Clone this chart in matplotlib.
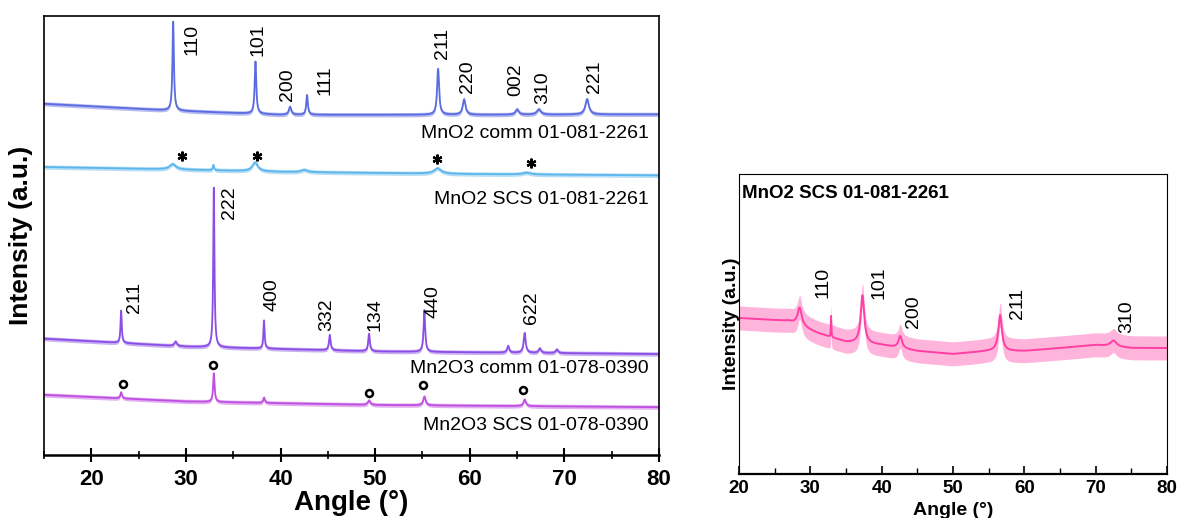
import numpy as np
import matplotlib.pyplot as plt
from matplotlib.ticker import MultipleLocator

plt.rcParams['font.family'] = ['Liberation Sans', 'DejaVu Sans']

# ---- peak tables (angle, height, width), y in axis fractions ----
# MnO2 commercial
mno2_comm_base_x = [15, 28, 40, 60, 80]
mno2_comm_base_y = [0.800, 0.785, 0.775, 0.775, 0.776]
mno2_comm_pos = [28.65, 37.35, 41.0, 42.8, 56.65, 59.4, 65.0, 67.3, 72.4]
mno2_comm_h = [0.205, 0.120, 0.018, 0.045, 0.105, 0.035, 0.012, 0.012, 0.035]
mno2_comm_w = [0.18, 0.20, 0.30, 0.20, 0.25, 0.35, 0.40, 0.50, 0.45]

# MnO2 SCS
mno2_scs_base_x = [15, 30, 40, 60, 80]
mno2_scs_base_y = [0.656, 0.650, 0.645, 0.640, 0.637]
mno2_scs_pos = [28.6, 32.9, 37.3, 42.5, 56.6, 66.0]
mno2_scs_h = [0.012, 0.012, 0.020, 0.005, 0.012, 0.004]
mno2_scs_w = [0.8, 0.15, 0.7, 0.8, 0.9, 1.0]

# Mn2O3 commercial
mn2o3_comm_base_x = [15, 30, 50, 80]
mn2o3_comm_base_y = [0.265, 0.247, 0.236, 0.230]
mn2o3_comm_pos = [23.15, 28.9, 32.95, 38.25, 45.2, 49.35, 55.2, 64.05, 65.8, 67.4, 69.2]
mn2o3_comm_h = [0.075, 0.010, 0.370, 0.065, 0.035, 0.040, 0.095, 0.015, 0.045, 0.010, 0.008]
mn2o3_comm_w = [0.15, 0.3, 0.15, 0.15, 0.20, 0.20, 0.20, 0.25, 0.25, 0.30, 0.30]

# Mn2O3 SCS
mn2o3_scs_base_x = [15, 30, 50, 80]
mn2o3_scs_base_y = [0.137, 0.122, 0.114, 0.109]
mn2o3_scs_pos = [23.15, 32.95, 38.25, 49.35, 55.2, 65.8]
mn2o3_scs_h = [0.014, 0.066, 0.012, 0.010, 0.020, 0.015]
mn2o3_scs_w = [0.20, 0.18, 0.20, 0.30, 0.30, 0.30]

# right panel: MnO2 SCS alone
inset_base_x = [20, 27, 31, 35, 40, 45, 50, 55, 60, 65, 70, 75, 80]
inset_base_y = [0.52, 0.51, 0.47, 0.44, 0.43, 0.41, 0.40, 0.41, 0.41, 0.42, 0.43, 0.42, 0.42]
inset_pos = [28.5, 32.9, 37.3, 42.6, 56.6, 72.5]
inset_h = [0.06, 0.07, 0.16, 0.04, 0.12, 0.02]
inset_w = [0.7, 0.08, 0.6, 0.6, 0.6, 1.0]

# labels
mno2_comm_hkl = ['110', '101', '200', '111', '211', '220', '002', '310', '221']
mno2_comm_hkl_x = [30.6, 37.6, 40.7, 44.7, 57.1, 59.8, 64.9, 67.7, 73.2]
mno2_comm_hkl_y = [0.947, 0.947, 0.843, 0.854, 0.938, 0.861, 0.854, 0.836, 0.861]
mn2o3_hkl = ['222', '211', '400', '332', '134', '440', '622']
mn2o3_hkl_x = [34.6, 24.6, 39.1, 44.9, 50.0, 56.1, 66.5]
mn2o3_hkl_y = [0.574, 0.358, 0.365, 0.319, 0.319, 0.349, 0.335]
star_x = [29.6, 37.5, 56.5, 66.5]
star_y = [0.680, 0.680, 0.675, 0.665]
circ_x = [23.4, 32.9, 49.3, 55.1, 65.6]
circ_y = [0.162, 0.205, 0.141, 0.159, 0.148]
inset_hkl = ['110', '101', '200', '211', '310']
inset_hkl_x = [31.8, 39.6, 44.4, 59.1, 74.4]
inset_hkl_y = [0.637, 0.637, 0.540, 0.570, 0.523]


def pattern(x, bx, by, pos, h, w):
    y = np.interp(x, bx, by)
    for p, a, s in zip(pos, h, w):
        y = y + a / (1 + ((x - p) / (s / 2)) ** 2)
    return y


ang = np.arange(15, 80.001, 0.02)

fig = plt.figure(figsize=(11.77, 5.18), dpi=100)

# ---- left panel ----
ax = fig.add_axes([0.0374, 0.1216, 0.5225, 0.8475])
traces = [
    (mno2_comm_base_x, mno2_comm_base_y, mno2_comm_pos, mno2_comm_h, mno2_comm_w, '#5b6be0', 'MnO2 comm 01-081-2261', 0.733),
    (mno2_scs_base_x, mno2_scs_base_y, mno2_scs_pos, mno2_scs_h, mno2_scs_w, '#5cb6ec', 'MnO2 SCS 01-081-2261', 0.581),
    (mn2o3_comm_base_x, mn2o3_comm_base_y, mn2o3_comm_pos, mn2o3_comm_h, mn2o3_comm_w, '#8a4ee6', 'Mn2O3 comm 01-078-0390', 0.198),
    (mn2o3_scs_base_x, mn2o3_scs_base_y, mn2o3_scs_pos, mn2o3_scs_h, mn2o3_scs_w, '#bf4fe2', 'Mn2O3 SCS 01-078-0390', 0.068),
]
for bx, by, pos, h, w, col, name, ly in traces:
    y = pattern(ang, bx, by, pos, h, w)
    ax.fill_between(ang, y - 0.005, y + 0.005, color=col, alpha=0.45, lw=0)
    ax.plot(ang, y, color=col, lw=1.3)
    ax.text(78.9, ly, name, ha='right', va='center', fontsize=14)

for t, x, y in zip(mno2_comm_hkl, mno2_comm_hkl_x, mno2_comm_hkl_y):
    ax.text(x, y, t, rotation=90, ha='center', va='center', fontsize=14)
for t, x, y in zip(mn2o3_hkl, mn2o3_hkl_x, mn2o3_hkl_y):
    ax.text(x, y, t, rotation=90, ha='center', va='center', fontsize=14)
ax.plot(star_x, star_y, ls='none', marker=(6, 2, 0), ms=7, mew=1.6, color='black')
ax.plot(circ_x, circ_y, ls='none', marker='o', ms=5, mfc='none', mec='black', mew=1.8)

ax.set_xlim(15, 80)
ax.set_ylim(0, 1)
ax.set_yticks([])
ax.xaxis.set_major_locator(MultipleLocator(10))
ax.xaxis.set_minor_locator(MultipleLocator(5))
ax.tick_params(axis='x', which='major', direction='inout', length=10, width=1.5, labelsize=16, pad=5)
ax.tick_params(axis='x', which='minor', direction='inout', length=6, width=1.2)
for lab in ax.get_xticklabels():
    lab.set_fontweight('bold')
for sp in ax.spines.values():
    sp.set_linewidth(1.2)
ax.spines['bottom'].set_linewidth(1.8)
ax.set_xlabel('Angle (°)', fontsize=20, fontweight='bold', labelpad=0)
ax.set_ylabel('Intensity (a.u.)', fontsize=19, fontweight='bold')
ax.yaxis.set_label_coords(-0.018, 0.5)

# ---- right panel ----
ax2 = fig.add_axes([0.6279, 0.0849, 0.3636, 0.5792])
ang2 = np.arange(20, 80.001, 0.02)
y2 = pattern(ang2, inset_base_x, inset_base_y, inset_pos, inset_h, inset_w)
ax2.fill_between(ang2, y2 - 0.04, y2 + 0.04, color='#ff6ab8', alpha=0.5, lw=0)
ax2.plot(ang2, y2, color='#ff3fa4', lw=1.4)
for t, x, y in zip(inset_hkl, inset_hkl_x, inset_hkl_y):
    ax2.text(x, y, t, rotation=90, ha='center', va='center', fontsize=14)
ax2.text(0.008, 0.935, 'MnO2 SCS 01-081-2261', transform=ax2.transAxes,
         fontsize=13.5, fontweight='bold', ha='left', va='center')
ax2.set_xlim(20, 80)
ax2.set_ylim(0, 1)
ax2.set_yticks([])
ax2.xaxis.set_major_locator(MultipleLocator(10))
ax2.xaxis.set_minor_locator(MultipleLocator(5))
ax2.tick_params(axis='x', which='major', direction='in', length=6, width=1.2, labelsize=13.5, pad=4)
ax2.tick_params(axis='x', which='minor', direction='in', length=4, width=1.0)
for lab in ax2.get_xticklabels():
    lab.set_fontweight('bold')
ax2.spines['bottom'].set_linewidth(1.6)
ax2.set_xlabel('Angle (°)', fontsize=14, fontweight='bold', labelpad=4)
ax2.set_ylabel('Intensity (a.u.)', fontsize=14, fontweight='bold')
ax2.yaxis.set_label_coords(0.002, 0.5)

fig.savefig('out.png', dpi=100)
